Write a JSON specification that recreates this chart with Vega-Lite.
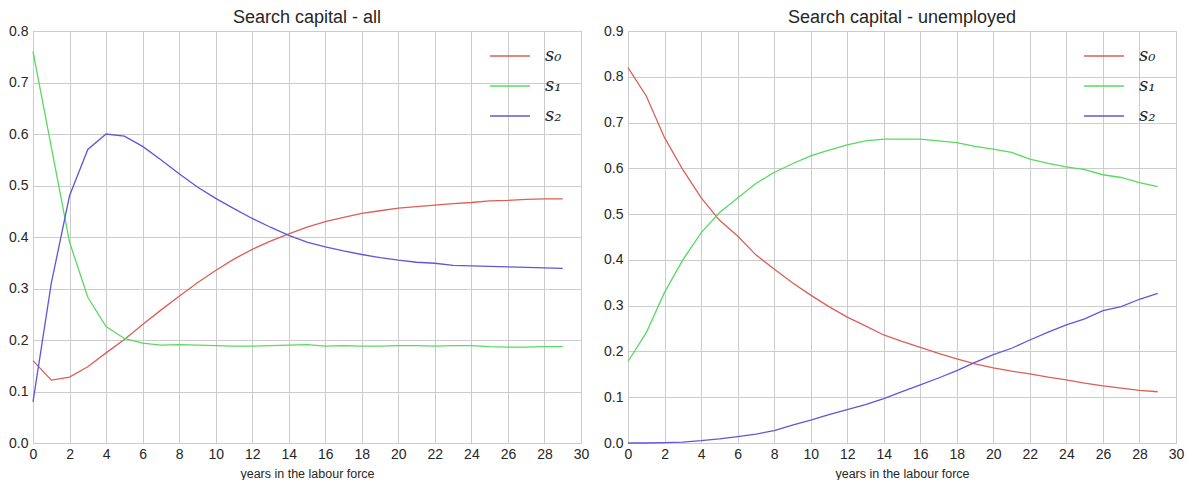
{
  "$schema": "https://vega.github.io/schema/vega-lite/v6.json",
  "background": "white",
  "padding": {"left": 8, "top": 8, "right": 2, "bottom": 0},
  "config": {
    "font": "Liberation Sans",
    "view": {"stroke": "#cccccc", "strokeWidth": 1},
    "axis": {"grid": true, "gridColor": "#cccccc", "gridWidth": 1, "gridOpacity": 1, "domain": false, "ticks": false,
      "labelFont": "Liberation Sans", "labelFontSize": 14, "labelColor": "#262626", "labelPadding": 5, "labelFlush": false,
      "titleFont": "Liberation Sans", "titleFontSize": 12.5, "titleFontWeight": "normal", "titleColor": "#262626", "titlePadding": 6},
    "axisX": {"labelPadding": 4},
    "title": {"font": "Liberation Sans", "fontSize": 18, "fontWeight": "normal", "color": "#262626", "offset": 5, "dy": 8},
    "legend": {"padding": 0},
    "concat": {"spacing": 13}
  },
  "datasets": {
    "all": [
      {"year": 0, "s0": 0.160, "s1": 0.760, "s2": 0.080},
      {"year": 1, "s0": 0.122, "s1": 0.575, "s2": 0.310},
      {"year": 2, "s0": 0.128, "s1": 0.390, "s2": 0.480},
      {"year": 3, "s0": 0.148, "s1": 0.283, "s2": 0.570},
      {"year": 4, "s0": 0.175, "s1": 0.226, "s2": 0.600},
      {"year": 5, "s0": 0.201, "s1": 0.203, "s2": 0.596},
      {"year": 6, "s0": 0.230, "s1": 0.194, "s2": 0.576},
      {"year": 7, "s0": 0.258, "s1": 0.190, "s2": 0.550},
      {"year": 8, "s0": 0.285, "s1": 0.191, "s2": 0.523},
      {"year": 9, "s0": 0.311, "s1": 0.190, "s2": 0.497},
      {"year": 10, "s0": 0.335, "s1": 0.189, "s2": 0.475},
      {"year": 11, "s0": 0.357, "s1": 0.188, "s2": 0.455},
      {"year": 12, "s0": 0.376, "s1": 0.188, "s2": 0.436},
      {"year": 13, "s0": 0.392, "s1": 0.189, "s2": 0.419},
      {"year": 14, "s0": 0.406, "s1": 0.190, "s2": 0.403},
      {"year": 15, "s0": 0.419, "s1": 0.191, "s2": 0.390},
      {"year": 16, "s0": 0.430, "s1": 0.188, "s2": 0.381},
      {"year": 17, "s0": 0.438, "s1": 0.189, "s2": 0.373},
      {"year": 18, "s0": 0.446, "s1": 0.188, "s2": 0.366},
      {"year": 19, "s0": 0.451, "s1": 0.188, "s2": 0.360},
      {"year": 20, "s0": 0.456, "s1": 0.189, "s2": 0.355},
      {"year": 21, "s0": 0.459, "s1": 0.189, "s2": 0.351},
      {"year": 22, "s0": 0.462, "s1": 0.188, "s2": 0.349},
      {"year": 23, "s0": 0.465, "s1": 0.189, "s2": 0.345},
      {"year": 24, "s0": 0.467, "s1": 0.189, "s2": 0.344},
      {"year": 25, "s0": 0.470, "s1": 0.187, "s2": 0.343},
      {"year": 26, "s0": 0.471, "s1": 0.186, "s2": 0.342},
      {"year": 27, "s0": 0.473, "s1": 0.186, "s2": 0.341},
      {"year": 28, "s0": 0.474, "s1": 0.187, "s2": 0.340},
      {"year": 29, "s0": 0.474, "s1": 0.187, "s2": 0.339}
    ],
    "unemployed": [
      {"year": 0, "s0": 0.820, "s1": 0.178, "s2": 0.000},
      {"year": 1, "s0": 0.758, "s1": 0.241, "s2": 0.000},
      {"year": 2, "s0": 0.667, "s1": 0.329, "s2": 0.001},
      {"year": 3, "s0": 0.597, "s1": 0.400, "s2": 0.002},
      {"year": 4, "s0": 0.536, "s1": 0.459, "s2": 0.005},
      {"year": 5, "s0": 0.487, "s1": 0.503, "s2": 0.009},
      {"year": 6, "s0": 0.452, "s1": 0.535, "s2": 0.014},
      {"year": 7, "s0": 0.411, "s1": 0.567, "s2": 0.0195},
      {"year": 8, "s0": 0.380, "s1": 0.591, "s2": 0.027},
      {"year": 9, "s0": 0.350, "s1": 0.610, "s2": 0.039},
      {"year": 10, "s0": 0.323, "s1": 0.627, "s2": 0.050},
      {"year": 11, "s0": 0.298, "s1": 0.640, "s2": 0.062},
      {"year": 12, "s0": 0.275, "s1": 0.651, "s2": 0.073},
      {"year": 13, "s0": 0.256, "s1": 0.660, "s2": 0.084},
      {"year": 14, "s0": 0.236, "s1": 0.664, "s2": 0.097},
      {"year": 15, "s0": 0.222, "s1": 0.664, "s2": 0.112},
      {"year": 16, "s0": 0.209, "s1": 0.664, "s2": 0.127},
      {"year": 17, "s0": 0.196, "s1": 0.660, "s2": 0.142},
      {"year": 18, "s0": 0.184, "s1": 0.656, "s2": 0.158},
      {"year": 19, "s0": 0.173, "s1": 0.648, "s2": 0.176},
      {"year": 20, "s0": 0.164, "s1": 0.642, "s2": 0.193},
      {"year": 21, "s0": 0.157, "s1": 0.635, "s2": 0.207},
      {"year": 22, "s0": 0.151, "s1": 0.620, "s2": 0.225},
      {"year": 23, "s0": 0.144, "s1": 0.611, "s2": 0.242},
      {"year": 24, "s0": 0.138, "s1": 0.603, "s2": 0.258},
      {"year": 25, "s0": 0.131, "s1": 0.597, "s2": 0.271},
      {"year": 26, "s0": 0.125, "s1": 0.586, "s2": 0.289},
      {"year": 27, "s0": 0.120, "s1": 0.580, "s2": 0.298},
      {"year": 28, "s0": 0.115, "s1": 0.569, "s2": 0.314},
      {"year": 29, "s0": 0.112, "s1": 0.560, "s2": 0.327}
    ]
  },
  "hconcat": [
    {
      "title": "Search capital - all",
      "width": 548, "height": 412,
      "data": {"name": "all"},
      "transform": [{"fold": ["s0", "s1", "s2"], "as": ["series", "value"]}],
      "mark": {"type": "line", "strokeWidth": 1.3},
      "encoding": {
        "x": {"field": "year", "type": "quantitative", "scale": {"domain": [0, 30], "nice": false},
          "axis": {"title": "years in the labour force", "values": [0,2,4,6,8,10,12,14,16,18,20,22,24,26,28,30]}},
        "y": {"field": "value", "type": "quantitative", "scale": {"domain": [0, 0.8], "nice": false},
          "axis": {"title": null, "format": ".1f", "values": [0,0.1,0.2,0.3,0.4,0.5,0.6,0.7,0.8]}},
        "color": {"field": "series", "type": "nominal",
          "scale": {"domain": ["s0", "s1", "s2"], "range": ["#db5f57", "#57db5f", "#5f57db"]},
          "legend": {"title": null, "orient": "none", "legendX": 456, "legendY": 4,
            "symbolType": "stroke", "symbolSize": 1600, "symbolStrokeWidth": 1.5,
            "labelExpr": "datum.label == 's0' ? 's₀' : datum.label == 's1' ? 's₁' : 's₂'",
            "labelFont": "DejaVu Serif", "labelFontStyle": "italic", "labelFontSize": 18, "labelColor": "#262626",
            "rowPadding": -3, "labelOffset": 14}}
      }
    },
    {
      "title": "Search capital - unemployed",
      "width": 548, "height": 412,
      "data": {"name": "unemployed"},
      "transform": [{"fold": ["s0", "s1", "s2"], "as": ["series", "value"]}],
      "mark": {"type": "line", "strokeWidth": 1.3},
      "encoding": {
        "x": {"field": "year", "type": "quantitative", "scale": {"domain": [0, 30], "nice": false},
          "axis": {"title": "years in the labour force", "values": [0,2,4,6,8,10,12,14,16,18,20,22,24,26,28,30]}},
        "y": {"field": "value", "type": "quantitative", "scale": {"domain": [0, 0.9], "nice": false},
          "axis": {"title": null, "format": ".1f", "values": [0,0.1,0.2,0.3,0.4,0.5,0.6,0.7,0.8,0.9]}},
        "color": {"field": "series", "type": "nominal",
          "scale": {"domain": ["s0", "s1", "s2"], "range": ["#db5f57", "#57db5f", "#5f57db"]},
          "legend": {"title": null, "orient": "none", "legendX": 455, "legendY": 4,
            "symbolType": "stroke", "symbolSize": 1600, "symbolStrokeWidth": 1.5,
            "labelExpr": "datum.label == 's0' ? 's₀' : datum.label == 's1' ? 's₁' : 's₂'",
            "labelFont": "DejaVu Serif", "labelFontStyle": "italic", "labelFontSize": 18, "labelColor": "#262626",
            "rowPadding": -3, "labelOffset": 14}}
      }
    }
  ],
  "resolve": {"scale": {"color": "independent", "y": "independent"}, "legend": {"color": "independent"}}
}
